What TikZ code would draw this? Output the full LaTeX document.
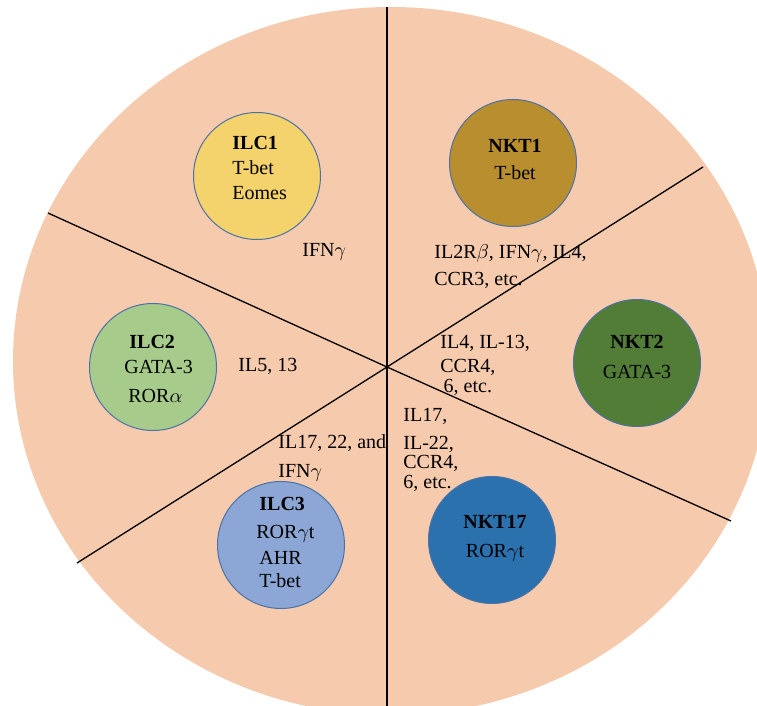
\documentclass[tikz,border=0pt]{standalone}
\usepackage{fontspec}
\setmainfont{Liberation Serif}
\usepackage{amsmath}
\usetikzlibrary{calc}
\definecolor{pie}{HTML}{F5CAAD}
\definecolor{rim}{HTML}{4A72A8}
\definecolor{ilcone}{HTML}{F4D26C}
\definecolor{nktone}{HTML}{B98E2F}
\definecolor{ilctwo}{HTML}{A7CB8A}
\definecolor{nkttwo}{HTML}{527D36}
\definecolor{ilcthree}{HTML}{8CA7D5}
\definecolor{nktseventeen}{HTML}{2A71AE}
\tikzset{
  cell/.style={draw=rim, circle, line width=0.5pt, minimum size=63.5pt, inner sep=0pt},
  divider/.style={black, line width=0.65pt},
  lbl/.style={font=\fontsize{10}{12.5}\selectfont, inner sep=0pt, align=left, anchor=base west}
}

\begin{document}
\begin{tikzpicture}[x=0.5pt, y=-0.5pt]
  \useasboundingbox (0,0) rectangle (757,706);
  \clip (0,0) rectangle (757,706);
  \fill[pie] (391,361) ellipse [x radius=378, y radius=354];

  % six sectors
  \coordinate (hub) at (387,367);
  \coordinate (top) at (387,7);
  \coordinate (bottom) at (387,706);
  \coordinate (upleft) at (48,213);
  \coordinate (downright) at (731,521);
  \coordinate (downleft) at (77,563);
  \coordinate (upright) at (703,167);
  \draw[divider] (top) -- (hub) -- (bottom);
  \draw[divider] (upleft) -- (hub) -- (downright);
  \draw[divider] (downleft) -- (hub) -- (upright);

  % cell types
  \node[cell, fill=ilcone] (ilc1) at (257,176) {};
  \node[cell, fill=nktone] (nkt1) at (513,163) {};
  \node[cell, fill=ilctwo] (ilc2) at (153,367) {};
  \node[cell, fill=nkttwo] (nkt2) at (637,363) {};
  \node[cell, fill=ilcthree] (ilc3) at (281,545) {};
  \node[cell, fill=nktseventeen] (nkt17) at (492,540) {};

  % base = last line
  \node[lbl] (ilc1txt) at (232,200) {\textbf{ILC1}\\T-bet\\Eomes};
  \node[lbl] (ilc2txt) at (124,403) {\hspace{2.5pt}\textbf{ILC2}\\[0.5pt]GATA-3\\[2pt]\hspace{2pt}ROR$\alpha$};
  \node[lbl] (ilc3txt) at (256,588) {\hspace{1.5pt}\textbf{ILC3}\\[1.5pt]ROR$\gamma$t\\[0.5pt]\hspace{1.5pt}AHR\\[-1pt]\hspace{1.5pt}T-bet};
  \node[lbl, align=center, anchor=base] (nkt1txt) at (515,180) {\textbf{NKT1}\\[1pt]T-bet};
  \node[lbl, align=center, anchor=base] (nkt2txt) at (637,379) {\textbf{NKT2}\\[2.5pt]GATA-3};
  \node[lbl, align=center, anchor=base] (nkt17txt) at (495,558) {\textbf{NKT17}\\[2pt]ROR$\gamma$t};

  % secreted / expressed
  \node[lbl] (ifn) at (302,257) {IFN$\gamma$};
  \node[lbl] (il5) at (238,372) {IL5, 13};
  \node[lbl] (il17a) at (278,478) {IL17, 22, and\\[2pt]IFN$\gamma$};
  \node[lbl] (il2r) at (434,286) {IL2R$\beta$, IFN$\gamma$, IL4,\\[1pt]CCR3, etc.};
  \node[lbl] (il4) at (440,393) {IL4, IL-13,\\[-0.5pt]CCR4,\\[-2.5pt]\,6, etc.};
  \node[lbl] (il17b) at (403,489) {IL17,\\[1.5pt]IL-22,\\[-2.5pt]CCR4,\\[-2.5pt]6, etc.};
\end{tikzpicture}
\end{document}
